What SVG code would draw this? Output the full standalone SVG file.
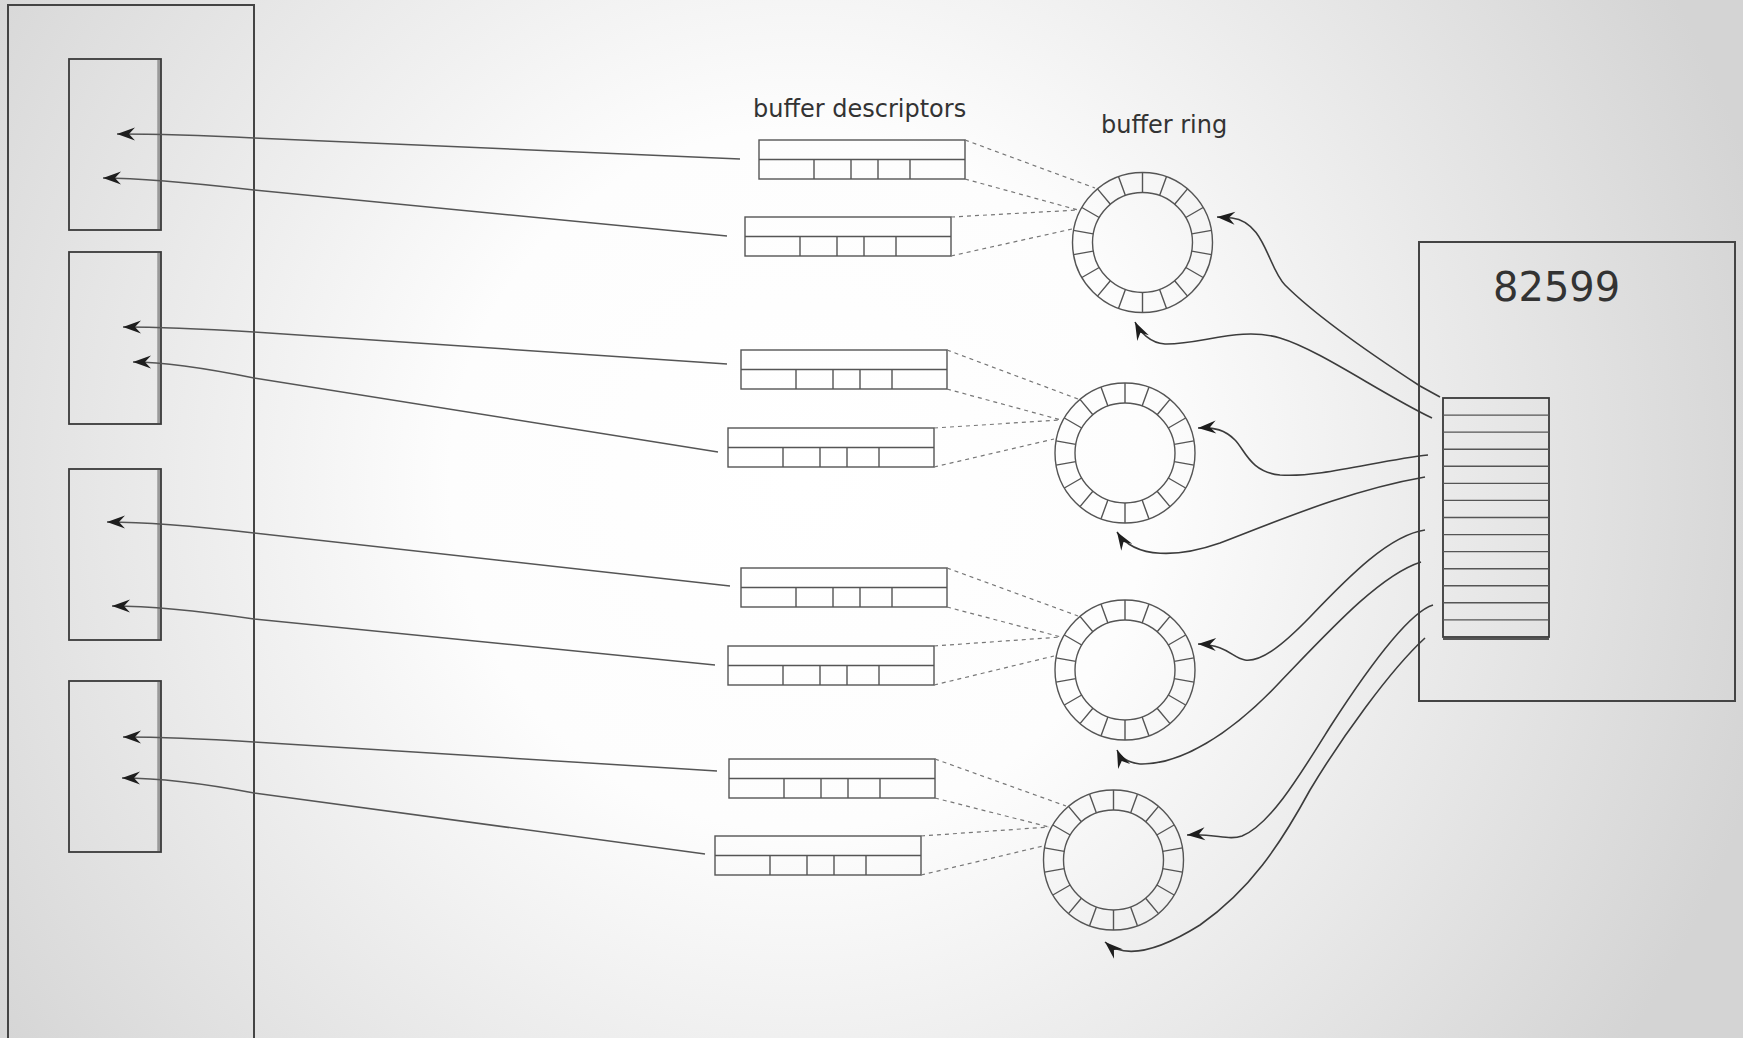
<svg xmlns="http://www.w3.org/2000/svg" xmlns:xlink="http://www.w3.org/1999/xlink" width="1743" height="1038" viewBox="0 0 1743 1038">
<style>
.box{fill:none;stroke:#444;stroke-width:2}
.sbox{fill:none;stroke:#3a3a3a;stroke-width:1.8}
.shade{stroke:#9a9a9a;stroke-width:3.5;fill:none}
.thin{fill:none;stroke:#555;stroke-width:1.4}
.ring{fill:none;stroke:#555;stroke-width:1.4}
.dash{fill:none;stroke:#777;stroke-width:1.2;stroke-dasharray:4 4}
.arr{fill:none;stroke:#555;stroke-width:1.5;marker-end:url(#ah)}
.curve{fill:none;stroke:#3c3c3c;stroke-width:1.6;marker-end:url(#ah)}
.lbl{font-family:"DejaVu Sans",Verdana,sans-serif;fill:#333}
</style>
<defs>
<radialGradient id="bg" gradientUnits="userSpaceOnUse" cx="800" cy="480" r="1000">
<stop offset="0" stop-color="#ffffff"/>
<stop offset="0.35" stop-color="#fdfdfd"/>
<stop offset="1" stop-color="#d4d4d4"/>
</radialGradient>
<marker id="ah" markerUnits="userSpaceOnUse" orient="auto" overflow="visible" markerWidth="1" markerHeight="1" refX="0" refY="0">
<path d="M0,0 L-18,-6.5 L-12,0 L-18,6.5 Z" fill="#1e1e1e"/>
</marker>
<g id="descShape">
<rect x="0" y="0" width="206" height="39" class="thin"/>
<path d="M0,19.5H206 M55,19.5V39 M92,19.5V39 M119,19.5V39 M151,19.5V39" class="thin"/>
</g>
<g id="ringShape">
<circle r="70" class="ring"/>
<circle r="50" class="ring"/>
<path class="ring" d="M0,-50V-70 M17.10,-46.98L23.94,-65.78 M32.14,-38.30L45,-53.62 M43.30,-25L60.62,-35 M49.24,-8.68L68.94,-12.16 M49.24,8.68L68.94,12.16 M43.30,25L60.62,35 M32.14,38.30L45,53.62 M17.10,46.98L23.94,65.78 M0,50V70 M-17.10,46.98L-23.94,65.78 M-32.14,38.30L-45,53.62 M-43.30,25L-60.62,35 M-49.24,8.68L-68.94,12.16 M-49.24,-8.68L-68.94,-12.16 M-43.30,-25L-60.62,-35 M-32.14,-38.30L-45,-53.62 M-17.10,-46.98L-23.94,-65.78"/>
</g>
</defs>
<rect x="0" y="0" width="1743" height="1038" fill="url(#bg)"/>

<g id="host-memory">
<rect x="8" y="5" width="246" height="1040" class="box"/>
</g>
<g id="buffer1">
<line x1="159" y1="60" x2="159" y2="229" class="shade"/>
<rect x="69" y="59" width="92" height="171" class="sbox"/>
</g>
<g id="buffer2">
<line x1="159" y1="253" x2="159" y2="423" class="shade"/>
<rect x="69" y="252" width="92" height="172" class="sbox"/>
</g>
<g id="buffer3">
<line x1="159" y1="470" x2="159" y2="639" class="shade"/>
<rect x="69" y="469" width="92" height="171" class="sbox"/>
</g>
<g id="buffer4">
<line x1="159" y1="682" x2="159" y2="851" class="shade"/>
<rect x="69" y="681" width="92" height="171" class="sbox"/>
</g>

<g id="label-descriptors"><text class="lbl" x="753" y="117" font-size="24">buffer descriptors</text></g>
<g id="label-ring"><text class="lbl" x="1101" y="133" font-size="24">buffer ring</text></g>

<g id="desc1" transform="translate(759,140)"><use xlink:href="#descShape"/></g>
<g id="desc2" transform="translate(745,217)"><use xlink:href="#descShape"/></g>
<g id="desc3" transform="translate(741,350)"><use xlink:href="#descShape"/></g>
<g id="desc4" transform="translate(728,428)"><use xlink:href="#descShape"/></g>
<g id="desc5" transform="translate(741,568)"><use xlink:href="#descShape"/></g>
<g id="desc6" transform="translate(728,646)"><use xlink:href="#descShape"/></g>
<g id="desc7" transform="translate(729,759)"><use xlink:href="#descShape"/></g>
<g id="desc8" transform="translate(715,836)"><use xlink:href="#descShape"/></g>

<g id="ring1" transform="translate(1142.5,242.5)"><use xlink:href="#ringShape"/></g>
<g id="ring2" transform="translate(1125,453)"><use xlink:href="#ringShape"/></g>
<g id="ring3" transform="translate(1125,670)"><use xlink:href="#ringShape"/></g>
<g id="ring4" transform="translate(1113.5,860)"><use xlink:href="#ringShape"/></g>

<g id="nic-82599">
<rect x="1419" y="242" width="316" height="459" class="box"/>
<text class="lbl" x="1493" y="301" font-size="40" fill="#222">82599</text>
</g>
<g id="queue">
<rect x="1443" y="398" width="106" height="239" class="sbox"/>
<path class="thin" d="M1443,415.1H1549 M1443,432.1H1549 M1443,449.2H1549 M1443,466.3H1549 M1443,483.4H1549 M1443,500.4H1549 M1443,517.5H1549 M1443,534.6H1549 M1443,551.6H1549 M1443,568.7H1549 M1443,585.8H1549 M1443,602.8H1549 M1443,619.9H1549"/>
<line x1="1443" y1="639" x2="1549" y2="639" stroke="#555" stroke-width="2"/>
</g>

<g id="connectors">
<path class="arr" d="M740,159 L254,138 Q175,134 117,134"/>
<path class="arr" d="M727,236 L254,190 Q150,178 103,178"/>
<path class="arr" d="M727,364 L254,332 Q170,327 123,327"/>
<path class="arr" d="M718,452 L254,378 Q175,362 133,362"/>
<path class="arr" d="M730,586 L254,533 Q160,522 107,522"/>
<path class="arr" d="M715,665 L254,619 Q165,606 112,606"/>
<path class="arr" d="M717,771 L254,742 Q175,737 123,737"/>
<path class="arr" d="M705,854 L254,793 Q175,778 122,778"/>

<path class="dash" d="M965,140L1095,188 M965,179L1078,210 M951,217L1078,210 M951,256L1072,229"/>
<path class="dash" d="M947,350L1078,399 M947,389L1061,420 M934,428L1061,420 M934,467L1054,439"/>
<path class="dash" d="M947,568L1078,616 M947,607L1061,637 M934,646L1061,637 M934,685L1054,656"/>
<path class="dash" d="M935,759L1066,806 M935,798L1049,827 M921,836L1049,827 M921,875L1043,846"/>

<path class="curve" d="M1440,397 L1420,386 C1380,360 1320,320 1285,285 C1268,268 1265,222 1232,218 L1217,217"/>
<path class="curve" d="M1432,418 C1380,393 1320,350 1280,338 C1240,326 1200,345 1165,344 C1150,343 1140,332 1135,322"/>
<path class="curve" d="M1428,455 C1380,460 1320,478 1280,475 C1250,472 1245,450 1235,440 C1225,430 1215,427 1198,428"/>
<path class="curve" d="M1425,477 C1350,490 1280,520 1220,543 C1180,557 1135,560 1117,532"/>
<path class="curve" d="M1425,530 C1390,535 1350,575 1310,617 C1280,648 1260,662 1245,660 C1232,658 1228,645 1198,644"/>
<path class="curve" d="M1421,562 C1380,575 1330,630 1280,682 C1230,735 1180,765 1140,764 C1128,763 1120,757 1117,750"/>
<path class="curve" d="M1433,605 C1410,612 1370,665 1330,727 C1300,775 1270,825 1242,836 C1228,841 1215,833 1187,835"/>
<path class="curve" d="M1425,638 C1390,670 1340,740 1310,790 C1280,845 1250,890 1200,925 C1160,950 1125,960 1105,942"/>
</g>
</svg>
